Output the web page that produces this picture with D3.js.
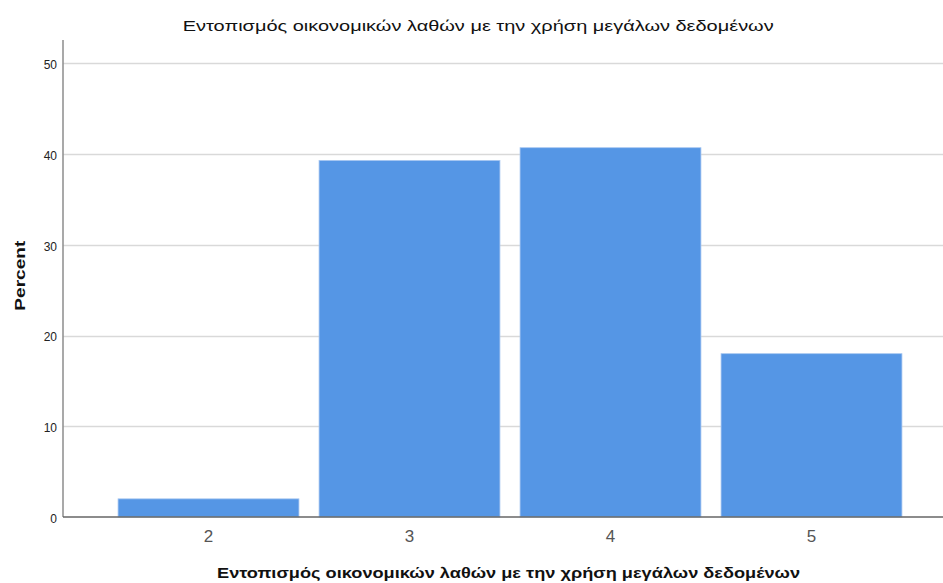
<!DOCTYPE html>
<html>
<head>
<meta charset="utf-8">
<script src="https://cdn.jsdelivr.net/npm/d3@7"></script>
<style>
  body { margin: 0; background: #fff; }
  svg { display: block; font-family: "Liberation Sans", Arial, sans-serif; }
</style>
</head>
<body>
<div id="chart"></div>
<script>
const categories = ['2', '3', '4', '5']
const percents = [2.0, 39.3, 40.7, 18.0]
const yTicks = [0, 10, 20, 30, 40, 50]
const titleText = 'Εντοπισμός οικονομικών λαθών με την χρήση μεγάλων δεδομένων'

const width = 943
const height = 583
const axisX = 63
const baseY = 517
const topY = 40

const svg = d3.select('#chart').append('svg')
  .attr('width', width)
  .attr('height', height)

const x = d3.scaleBand()
  .domain(categories)
  .range([108, 912])
  .paddingInner(0.1)
  .paddingOuter(0.05)

const y = d3.scaleLinear()
  .domain([0, 50])
  .range([baseY, 63.3])

// Gridlines
svg.append('g')
  .selectAll('line')
  .data(yTicks.filter(t => t > 0))
  .join('line')
  .attr('x1', axisX)
  .attr('x2', width)
  .attr('y1', d => Math.round(y(d)) + 0.5)
  .attr('y2', d => Math.round(y(d)) + 0.5)
  .attr('stroke', '#d9d9d9')
  .attr('stroke-width', 1.5)

// Bars
svg.append('g')
  .selectAll('rect')
  .data(categories)
  .join('rect')
  .attr('x', d => x(d))
  .attr('y', (d, i) => y(percents[i]))
  .attr('width', x.bandwidth())
  .attr('height', (d, i) => baseY - y(percents[i]))
  .attr('fill', '#5596e5')
  .attr('stroke', '#a9c8f1')
  .attr('stroke-width', 0.8)

// Y axis
const yAxis = svg.append('g')
  .attr('transform', `translate(${axisX},0)`)
  .call(d3.axisLeft(y).tickValues(yTicks).tickSize(0).tickPadding(6))
yAxis.select('.domain').remove()
yAxis.selectAll('text')
  .attr('font-size', 12)
  .attr('dy', '0.45em')
  .attr('fill', '#222')
  .attr('font-family', '"Liberation Sans", Arial, sans-serif')

svg.append('line')
  .attr('x1', axisX).attr('x2', axisX)
  .attr('y1', topY).attr('y2', baseY)
  .attr('stroke', '#8c8c8c')
  .attr('stroke-width', 1.5)

// X axis
const xAxis = svg.append('g')
  .attr('transform', `translate(0,${baseY})`)
  .call(d3.axisBottom(x).tickSize(0).tickPadding(13))
xAxis.select('.domain').remove()
xAxis.selectAll('text')
  .attr('font-size', 17)
  .attr('fill', '#555')
  .attr('font-family', '"Liberation Sans", Arial, sans-serif')

svg.append('line')
  .attr('x1', axisX).attr('x2', width)
  .attr('y1', baseY).attr('y2', baseY)
  .attr('stroke', '#666')
  .attr('stroke-width', 1.5)

// Titles
svg.append('text')
  .attr('x', 182.7)
  .attr('y', 31)
  .attr('font-size', 15.5)
  .attr('fill', '#111')
  .attr('textLength', 591)
  .attr('lengthAdjust', 'spacingAndGlyphs')
  .text(titleText)

svg.append('text')
  .attr('x', 217)
  .attr('y', 578)
  .attr('font-size', 15.5)
  .attr('font-weight', 'bold')
  .attr('fill', '#111')
  .attr('textLength', 583)
  .attr('lengthAdjust', 'spacingAndGlyphs')
  .text(titleText)

svg.append('text')
  .attr('transform', 'translate(25,275.7) rotate(-90)')
  .attr('text-anchor', 'middle')
  .attr('font-size', 15.5)
  .attr('font-weight', 'bold')
  .attr('fill', '#111')
  .attr('textLength', 70)
  .attr('lengthAdjust', 'spacingAndGlyphs')
  .text('Percent')
</script>
</body>
</html>
